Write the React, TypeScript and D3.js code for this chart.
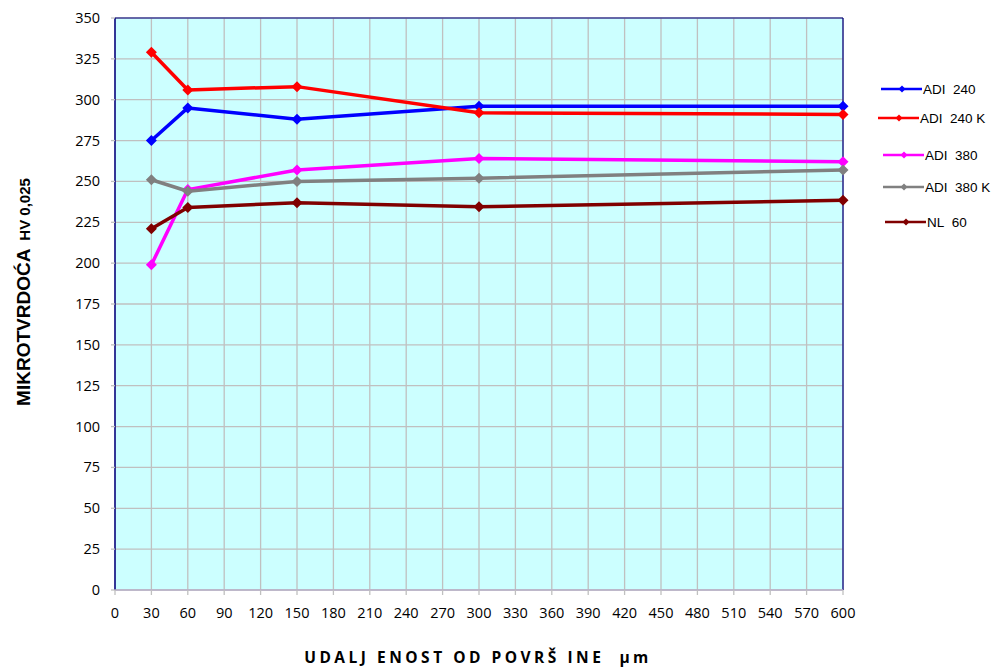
import React from "react";
import * as d3 from "d3";

const xValues = [30, 60, 150, 300, 600];
const seriesNames = ["ADI 240", "ADI 240 K", "ADI 380", "ADI 380 K", "NL 60"];
const seriesColors = ["#0000ff", "#ff0000", "#ff00ff", "#808080", "#800000"];
const adi240 = [275, 295, 288, 296, 296];
const adi240K = [329, 306, 308, 292, 291];
const adi380 = [199, 245, 257, 264, 262];
const adi380K = [251, 244, 250, 252, 257];
const nl60 = [221, 234, 237, 234.5, 238.5];
const xTicks = d3.range(0, 601, 30);
const yTicks = d3.range(0, 351, 25);
const legendY = [89, 118, 155, 187, 222];
const legendX0 = [881, 878, 883, 883, 885];

export default function App() {
  const left = 115, right = 843, top = 18, bottom = 590;
  const x = d3.scaleLinear().domain([0, 600]).range([left, right]);
  const y = d3.scaleLinear().domain([0, 350]).range([bottom, top]);
  const data = [adi240, adi240K, adi380, adi380K, nl60];
  const line = d3.line<number>().x((_, i) => x(xValues[i])).y((d) => y(d));
  const diamond = (cx: number, cy: number, r: number) =>
    `M${cx},${cy - r}L${cx + r},${cy}L${cx},${cy + r}L${cx - r},${cy}Z`;

  return (
    <svg width={1005} height={670} style={{ position: "absolute", left: 0, top: 0 }}>
      <rect x={0} y={0} width={1005} height={670} fill="#ffffff" />
      <rect x={left} y={top} width={right - left} height={bottom - top} fill="#ccffff" />
      {xTicks.map((t) => (
        <line key={"gx" + t} x1={x(t)} x2={x(t)} y1={top} y2={bottom} stroke="#c0c0c0" strokeWidth={1.3} />
      ))}
      {yTicks.map((t) => (
        <line key={"gy" + t} x1={left} x2={right} y1={y(t)} y2={y(t)} stroke="#c0c0c0" strokeWidth={1.3} />
      ))}
      <line x1={left} x2={right} y1={top} y2={top} stroke="#000080" strokeWidth={1.2} />
      <line x1={right} x2={right} y1={top} y2={bottom} stroke="#000080" strokeWidth={1.2} />
      <line x1={left} x2={left} y1={top} y2={bottom} stroke="#000080" strokeWidth={1.5} />
      <line x1={left} x2={right} y1={bottom} y2={bottom} stroke="#b8b0c8" strokeWidth={1.5} />
      {xTicks.map((t) => (
        <g key={"xt" + t}>
          <line x1={x(t)} x2={x(t)} y1={bottom} y2={bottom + 5} stroke="#c0c0c0" strokeWidth={1.3} />
          <text x={x(t)} y={bottom + 28} textAnchor="middle" fontFamily="'Open Sans', sans-serif" fontSize={14.5} fill="#000">
            {t}
          </text>
        </g>
      ))}
      {yTicks.map((t) => (
        <g key={"yt" + t}>
          <line x1={left - 4} x2={left} y1={y(t)} y2={y(t)} stroke="#c0c0c0" strokeWidth={1.3} />
          <text x={100} y={y(t) + 5} textAnchor="end" fontFamily="'Open Sans', sans-serif" fontSize={14.5} fill="#000">
            {t}
          </text>
        </g>
      ))}
      {data.map((s, k) => (
        <g key={"s" + k}>
          <path d={line(s) || ""} fill="none" stroke={seriesColors[k]} strokeWidth={3.5} strokeLinejoin="round" />
          {s.map((v, i) => (
            <path key={i} d={diamond(x(xValues[i]), y(v), 5.5)} fill={seriesColors[k]} />
          ))}
        </g>
      ))}
      {seriesNames.map((n, k) => (
        <g key={"l" + k}>
          <line x1={legendX0[k]} x2={legendX0[k] + 41} y1={legendY[k]} y2={legendY[k]} stroke={seriesColors[k]} strokeWidth={2.5} />
          <path d={diamond(legendX0[k] + 21, legendY[k], 3.5)} fill={seriesColors[k]} />
          <text x={legendX0[k] + 42} y={legendY[k] + 5} fontFamily="'Liberation Sans', Arial, sans-serif" fontSize={13.5} fill="#000">
            {n.replace(" ", "\u00a0 ")}
          </text>
        </g>
      ))}
      <text
        transform="translate(30,292) rotate(-90)"
        textAnchor="middle"
        fontFamily="'Liberation Sans', Arial, sans-serif"
        fontWeight="bold"
        fill="#000"
      >
        <tspan fontSize={19}>MIKROTVRDOĆA</tspan>
        <tspan fontSize={15} dx={8}>HV 0,025</tspan>
      </text>
      <text
        x={478}
        y={663}
        textAnchor="middle"
        fontFamily="'Open Sans', sans-serif"
        fontWeight="bold"
        fontSize={15.5}
        letterSpacing={3.5}
        fill="#000"
      >
        UDALJ ENOST OD POVRŠ INE {"\u00a0"}µm
      </text>
    </svg>
  );
}
